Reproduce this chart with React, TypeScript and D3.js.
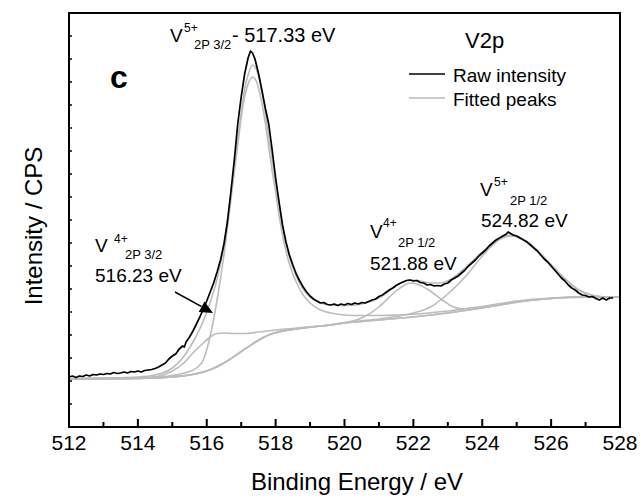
import React from "react";
import * as d3 from "d3";

// Binding energy (eV) / intensity (arbitrary CPS units) pairs
const rawIntensity: [number, number][] = [
  [512.0, 500], [512.1, 510], [512.2, 495], [512.3, 510], [512.4, 505], [512.5, 520], [512.6, 510], [512.7, 525], [512.8, 520], [512.9, 530],
  [513.0, 525], [513.1, 535], [513.2, 530], [513.3, 545], [513.4, 535], [513.5, 540], [513.6, 550], [513.7, 540], [513.8, 555], [513.9, 550],
  [514.0, 560], [514.1, 550], [514.2, 565], [514.3, 570], [514.4, 575], [514.5, 585], [514.6, 600], [514.7, 620], [514.8, 640], [514.9, 680],
  [515.0, 710], [515.1, 730], [515.2, 780], [515.3, 810], [515.35, 800], [515.4, 850], [515.5, 900], [515.6, 960], [515.7, 1030], [515.8, 1100],
  [515.9, 1180], [516.0, 1260], [516.1, 1350], [516.2, 1440], [516.3, 1550], [516.4, 1670], [516.5, 1830], [516.6, 2050], [516.7, 2350], [516.8, 2670],
  [516.9, 3030], [517.0, 3300], [517.1, 3530], [517.2, 3690], [517.27, 3760], [517.33, 3740], [517.4, 3680], [517.5, 3540], [517.6, 3370], [517.7, 3190],
  [517.8, 3030], [517.9, 2770], [518.0, 2490], [518.1, 2250], [518.2, 2020], [518.3, 1850], [518.4, 1720], [518.5, 1620], [518.6, 1530], [518.7, 1460],
  [518.8, 1400], [518.9, 1350], [519.0, 1310], [519.1, 1280], [519.2, 1260], [519.3, 1240], [519.4, 1245], [519.5, 1225], [519.6, 1220], [519.7, 1230],
  [519.8, 1215], [519.9, 1230], [520.0, 1220], [520.1, 1235], [520.2, 1225], [520.3, 1240], [520.4, 1230], [520.5, 1245], [520.6, 1240], [520.7, 1255],
  [520.8, 1270], [520.9, 1280], [521.0, 1305], [521.1, 1320], [521.2, 1345], [521.3, 1370], [521.4, 1390], [521.5, 1415], [521.6, 1435], [521.7, 1450],
  [521.8, 1465], [521.9, 1470], [522.0, 1460], [522.1, 1465], [522.2, 1445], [522.3, 1440], [522.4, 1420], [522.5, 1425], [522.6, 1410], [522.7, 1415],
  [522.8, 1410], [522.9, 1430], [523.0, 1440], [523.1, 1470], [523.2, 1490], [523.3, 1510], [523.4, 1540], [523.5, 1570], [523.6, 1610], [523.7, 1640],
  [523.8, 1670], [523.9, 1710], [524.0, 1740], [524.1, 1770], [524.2, 1810], [524.3, 1840], [524.4, 1870], [524.5, 1890], [524.6, 1910], [524.7, 1930],
  [524.75, 1950], [524.8, 1940], [524.9, 1920], [525.0, 1910], [525.1, 1890], [525.2, 1870], [525.3, 1850], [525.4, 1820], [525.5, 1790], [525.6, 1760],
  [525.7, 1720], [525.8, 1680], [525.9, 1650], [526.0, 1610], [526.1, 1570], [526.2, 1530], [526.3, 1490], [526.4, 1460], [526.5, 1420], [526.6, 1390],
  [526.7, 1370], [526.8, 1340], [526.9, 1320], [527.0, 1315], [527.1, 1300], [527.2, 1305], [527.3, 1285], [527.4, 1270], [527.5, 1290], [527.6, 1270],
  [527.7, 1290], [527.8, 1290],
];

const shirleyBackground: [number, number][] = [
  [512.0, 480], [514.0, 485], [515.0, 500], [515.5, 520], [516.0, 560], [516.3, 600], [516.6, 660], [516.9, 730], [517.2, 800], [517.5, 870],
  [517.8, 920], [518.2, 960], [518.7, 985], [519.0, 1000], [519.5, 1015], [520.0, 1040], [520.5, 1055], [521.0, 1070], [521.5, 1085], [522.0, 1100],
  [522.5, 1120], [523.0, 1140], [523.5, 1165], [524.0, 1190], [524.5, 1220], [525.0, 1250], [525.5, 1270], [526.0, 1285], [526.5, 1295], [527.0, 1300],
  [528.0, 1300],
];

const peakV4_2p32: [number, number][] = [
  [512.0, 482], [513.0, 484], [514.0, 488], [514.5, 500], [515.0, 560], [515.3, 630], [515.6, 740], [515.9, 840], [516.1, 900], [516.3, 935],
  [516.5, 940], [516.8, 935], [517.1, 935], [517.5, 950], [518.0, 970], [518.5, 985], [519.0, 1002], [519.5, 1016], [520.0, 1040], [520.5, 1055],
  [521.5, 1085], [522.5, 1120], [523.5, 1165], [524.5, 1220], [525.5, 1270], [526.5, 1295], [528.0, 1300],
];

const peakV5_2p32: [number, number][] = [
  [512.0, 482], [514.0, 490], [514.5, 500], [515.0, 515], [515.4, 545], [515.7, 590], [515.9, 670], [516.1, 910], [516.3, 1270], [516.5, 1720],
  [516.7, 2270], [516.9, 2820], [517.0, 3090], [517.1, 3300], [517.2, 3430], [517.33, 3500], [517.45, 3450], [517.6, 3240], [517.7, 3040], [517.8, 2800],
  [517.9, 2560], [518.0, 2350], [518.1, 2120], [518.2, 1920], [518.3, 1760], [518.4, 1630], [518.5, 1530], [518.6, 1450], [518.8, 1320], [519.0, 1240],
  [519.3, 1170], [519.6, 1140], [520.0, 1120], [520.5, 1115], [521.0, 1115], [521.5, 1120], [522.0, 1128], [523.0, 1160], [524.0, 1205], [525.0, 1260],
  [526.0, 1290], [527.0, 1302], [528.0, 1301],
];

const peakV4_2p12: [number, number][] = [
  [512.0, 481], [514.0, 486], [515.0, 501], [516.0, 561], [516.6, 661], [517.2, 801], [517.8, 921], [518.7, 986], [519.5, 1017], [520.0, 1042],
  [520.5, 1090], [521.0, 1200], [521.4, 1330], [521.7, 1410], [521.9, 1440], [522.1, 1430], [522.4, 1380], [522.8, 1280], [523.1, 1210], [523.4, 1182],
  [523.8, 1190], [524.2, 1205], [524.6, 1228], [525.0, 1252], [525.5, 1271], [526.0, 1286], [527.0, 1300], [528.0, 1300],
];

const peakV5_2p12: [number, number][] = [
  [512.0, 481], [514.0, 486], [515.0, 501], [516.0, 561], [516.6, 661], [517.2, 801], [517.8, 921], [518.7, 986], [519.5, 1017], [520.0, 1045],
  [520.5, 1062], [521.0, 1080], [521.5, 1105], [522.0, 1140], [522.5, 1200], [523.0, 1330], [523.5, 1500], [524.0, 1710], [524.4, 1850], [524.82, 1910],
  [525.2, 1870], [525.6, 1760], [526.0, 1620], [526.4, 1480], [526.8, 1370], [527.2, 1315], [527.6, 1300], [528.0, 1300],
];

const fitEnvelope: [number, number][] = [
  [512.0, 485], [513.0, 490], [514.0, 500], [514.5, 520], [515.0, 590], [515.3, 690], [515.6, 850], [515.9, 1060], [516.1, 1250], [516.3, 1480],
  [516.5, 1820], [516.7, 2320], [516.9, 2870], [517.0, 3140], [517.1, 3380], [517.2, 3520], [517.33, 3620], [517.45, 3570], [517.6, 3360], [517.8, 2910],
  [518.0, 2440], [518.2, 2010], [518.4, 1700], [518.6, 1510], [518.8, 1380], [519.0, 1300], [519.3, 1240], [519.6, 1220], [520.0, 1215], [520.5, 1230],
  [521.0, 1290], [521.4, 1390], [521.7, 1450], [521.9, 1470], [522.2, 1460], [522.5, 1440], [522.8, 1440], [523.1, 1480], [523.5, 1590], [524.0, 1750],
  [524.4, 1865], [524.8, 1920], [525.2, 1875], [525.6, 1765], [526.0, 1625], [526.4, 1485], [526.8, 1372], [527.2, 1316], [527.6, 1300], [528.0, 1300],
];

const xMajorTicks = [512, 514, 516, 518, 520, 522, 524, 526, 528];
const xMinorTicks = [513, 515, 517, 519, 521, 523, 525, 527];
const yTickValues = d3.range(0, 4141, 230);

const FONT = "'Liberation Sans', Arial, Helvetica, sans-serif";
const GRAY = "#bcbcbc";

export default function App() {
  const left = 69, right = 620, top = 13, bottom = 427;
  const x = d3.scaleLinear().domain([512, 528]).range([left, right]);
  const y = d3.scaleLinear().domain([0, 4140]).range([bottom, top]);
  const smooth = d3.line<[number, number]>().x(d => x(d[0])).y(d => y(d[1])).curve(d3.curveMonotoneX);
  const raw = d3.line<[number, number]>().x(d => x(d[0])).y(d => y(d[1]));

  const grayCurves = [shirleyBackground, peakV4_2p32, peakV5_2p32, peakV4_2p12, peakV5_2p12, fitEnvelope];

  // arrow geometry (annotation)
  const ax0 = 175, ay0 = 292, ax1 = 213, ay1 = 313;
  const ang = Math.atan2(ay1 - ay0, ax1 - ax0);
  const hl = 13, hw = 6;
  const bx = ax1 - hl * Math.cos(ang), by = ay1 - hl * Math.sin(ang);
  const nx = -Math.sin(ang), ny = Math.cos(ang);
  const head = `M${ax1},${ay1} L${bx + hw * nx},${by + hw * ny} L${bx - hw * nx},${by - hw * ny} Z`;

  return (
    <svg width={641} height={499} style={{ display: "block", position: "absolute", left: 0, top: 0 }} fontFamily={FONT}>
      <rect x={0} y={0} width={641} height={499} fill="#fff" />
      {grayCurves.map((c, i) => (
        <path key={i} d={smooth(c) || ""} fill="none" stroke={GRAY} strokeWidth={1.6} />
      ))}
      <path d={raw(rawIntensity) || ""} fill="none" stroke="#000" strokeWidth={1.7} strokeLinejoin="round" />

      {/* frame */}
      <rect x={left} y={top} width={right - left} height={bottom - top} fill="none" stroke="#000" strokeWidth={2} />
      {xMajorTicks.map(t => (
        <line key={"M" + t} x1={x(t)} x2={x(t)} y1={bottom} y2={bottom - 8} stroke="#000" strokeWidth={2} />
      ))}
      {xMinorTicks.map(t => (
        <line key={"m" + t} x1={x(t)} x2={x(t)} y1={bottom} y2={bottom - 5} stroke="#000" strokeWidth={2} />
      ))}
      {yTickValues.map(t => (
        <line key={"y" + t} x1={left} x2={left + 3} y1={y(t)} y2={y(t)} stroke="#000" strokeWidth={1.5} />
      ))}
      {xMajorTicks.map(t => (
        <text key={"l" + t} x={x(t)} y={450} textAnchor="middle" fontSize={21}>{t}</text>
      ))}
      <text x={357} y={490} textAnchor="middle" fontSize={24}>Binding Energy / eV</text>
      <text transform="translate(42,226) rotate(-90)" textAnchor="middle" fontSize={24}>Intensity / CPS</text>

      {/* panel letter */}
      <text x={110} y={88} fontSize={32} fontWeight="bold">c</text>

      {/* legend */}
      <text x={465} y={48} fontSize={22}>V2p</text>
      <line x1={409} x2={445} y1={74} y2={74} stroke="#000" strokeWidth={1.5} />
      <text x={453} y={82} fontSize={19}>Raw intensity</text>
      <line x1={409} x2={445} y1={98} y2={98} stroke={GRAY} strokeWidth={1.5} />
      <text x={453} y={106} fontSize={19}>Fitted peaks</text>

      {/* peak annotations */}
      <text x={170} y={42} fontSize={19}>V</text>
      <text x={184} y={32} fontSize={12}>5+</text>
      <text x={194} y={49} fontSize={13}>2P 3/2</text>
      <text x={232} y={42} fontSize={20}>- 517.33 eV</text>

      <text x={95} y={252} fontSize={19}>V</text>
      <text x={114} y={243} fontSize={12}>4+</text>
      <text x={125} y={259} fontSize={13}>2P 3/2</text>
      <text x={95} y={282} fontSize={19}>516.23 eV</text>
      <line x1={ax0} y1={ay0} x2={bx} y2={by} stroke="#000" strokeWidth={1.5} />
      <path d={head} fill="#000" />

      <text x={370} y={238} fontSize={19}>V</text>
      <text x={383} y={227} fontSize={12}>4+</text>
      <text x={398} y={247} fontSize={13}>2P 1/2</text>
      <text x={370} y={270} fontSize={19}>521.88 eV</text>

      <text x={480} y={196} fontSize={19}>V</text>
      <text x={494} y={186} fontSize={12}>5+</text>
      <text x={510} y={205} fontSize={13}>2P 1/2</text>
      <text x={481} y={227} fontSize={19}>524.82 eV</text>
    </svg>
  );
}
